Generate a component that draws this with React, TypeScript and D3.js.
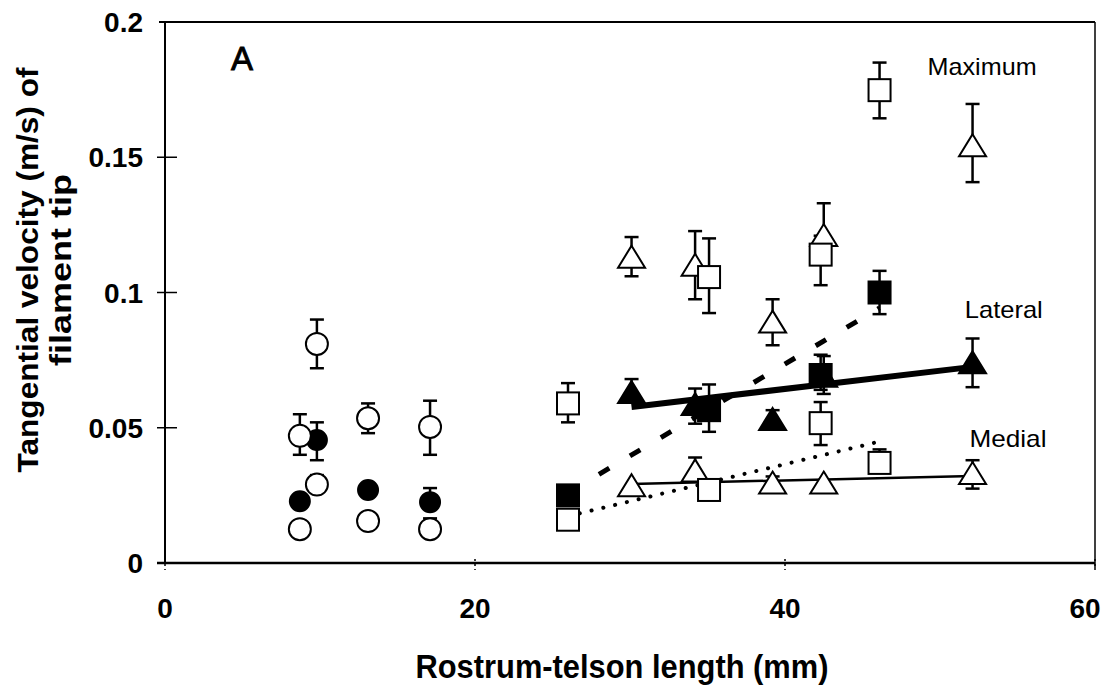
import * as d3 from 'd3';

// length (mm), mean velocity (m/s), error bar up / down
type Pt = { x: number; y: number; up: number; dn: number };

// small mysids (circles)
const maxCircles: Pt[] = [
  { x: 8.7, y: 0.047, up: 0.008, dn: 0.007 },
  { x: 9.8, y: 0.081, up: 0.009, dn: 0.009 },
  { x: 13.1, y: 0.0535, up: 0.0055, dn: 0.0055 },
  { x: 17.1, y: 0.0503, up: 0.0097, dn: 0.0103 },
];
const latCircles: Pt[] = [
  { x: 8.7, y: 0.0228, up: 0, dn: 0 },
  { x: 9.8, y: 0.0455, up: 0.0065, dn: 0.0075 },
  { x: 13.1, y: 0.027, up: 0, dn: 0 },
  { x: 17.1, y: 0.0225, up: 0.0052, dn: 0 },
];
const medCircles: Pt[] = [
  { x: 8.7, y: 0.0125, up: 0, dn: 0 },
  { x: 9.8, y: 0.029, up: 0.0035, dn: 0 },
  { x: 13.1, y: 0.0155, up: 0, dn: 0 },
  { x: 17.1, y: 0.0125, up: 0.004, dn: 0 },
];

// larger mysids, squares
const maxSquares: Pt[] = [
  { x: 26.0, y: 0.059, up: 0.0075, dn: 0.007 },
  { x: 35.1, y: 0.1057, up: 0.0143, dn: 0.0133 },
  { x: 42.3, y: 0.114, up: 0.007, dn: 0.0113 },
  { x: 46.1, y: 0.1748, up: 0.0102, dn: 0.0104 },
];
const latSquares: Pt[] = [
  { x: 26.0, y: 0.025, up: 0, dn: 0 },
  { x: 35.1, y: 0.0565, up: 0.0095, dn: 0.008 },
  { x: 42.3, y: 0.0695, up: 0.0075, dn: 0.0055 },
  { x: 46.1, y: 0.1, up: 0.008, dn: 0.008 },
];
const medSquares: Pt[] = [
  { x: 26.0, y: 0.016, up: 0, dn: 0 },
  { x: 35.1, y: 0.027, up: 0, dn: 0 },
  { x: 42.3, y: 0.0517, up: 0.0078, dn: 0.0081 },
  { x: 46.1, y: 0.037, up: 0.005, dn: 0 },
];

// triangles
const maxTriangles: Pt[] = [
  { x: 30.1, y: 0.1125, up: 0.008, dn: 0.0065 },
  { x: 34.2, y: 0.1095, up: 0.0132, dn: 0.012 },
  { x: 39.2, y: 0.0885, up: 0.009, dn: 0.008 },
  { x: 42.5, y: 0.1205, up: 0.0125, dn: 0 },
  { x: 52.1, y: 0.1537, up: 0.016, dn: 0.0129 },
];
const latTriangles: Pt[] = [
  { x: 30.1, y: 0.0625, up: 0.0055, dn: 0 },
  { x: 34.2, y: 0.058, up: 0.0065, dn: 0.0065 },
  { x: 39.2, y: 0.0525, up: 0.004, dn: 0.0025 },
  { x: 42.5, y: 0.0685, up: 0.008, dn: 0.006 },
  { x: 52.1, y: 0.0735, up: 0.0095, dn: 0.0085 },
];
const medTriangles: Pt[] = [
  { x: 30.1, y: 0.028, up: 0, dn: 0 },
  { x: 34.2, y: 0.0335, up: 0.0055, dn: 0 },
  { x: 39.2, y: 0.029, up: 0.003, dn: 0.003 },
  { x: 42.5, y: 0.029, up: 0, dn: 0 },
  { x: 52.1, y: 0.0325, up: 0.0055, dn: 0.005 },
];

// regression lines (end points)
const latTriFit: [number, number][] = [[30.1, 0.0577], [52.1, 0.0725]];
const medTriFit: [number, number][] = [[30.1, 0.0292], [52.1, 0.0322]];
const latSqFit: [number, number][] = [[26.0, 0.026], [46.1, 0.0943]];
const medSqFit: [number, number][] = [[26.0, 0.0173], [46.1, 0.0449]];

const xTicks = [0, 20, 40, 60];
const yTicks = [0, 0.05, 0.1, 0.15, 0.2];
const yTickLabels = ['0', '0.05', '0.1', '0.15', '0.2'];

const seriesLabels = [
  { text: 'Maximum', x: 49.2, y: 0.1803, len: 109 },
  { text: 'Lateral', x: 51.6, y: 0.0905, len: 78 },
  { text: 'Medial', x: 51.9, y: 0.0429, len: 77 },
];

const FONT = '"Liberation Sans", Arial, Helvetica, sans-serif';

export default function App() {
  const W = 1110;
  const H = 688;
  const left = 165;
  const right = 1095;
  const top = 22;
  const bottom = 563;

  const x = d3.scaleLinear().domain([0, 60]).range([left, right]);
  const y = d3.scaleLinear().domain([0, 0.2]).range([bottom, top]);
  const line = d3.line<[number, number]>().x(d => x(d[0])).y(d => y(d[1]));

  const errBars = (data: Pt[], key: string) =>
    data.map((d, i) => {
      const cx = x(d.x);
      const cy = y(d.y);
      const parts = [] as any[];
      if (d.up > 0) {
        const yt = y(d.y + d.up);
        parts.push(<line key="u" x1={cx} x2={cx} y1={cy} y2={yt} />);
        parts.push(<line key="uc" x1={cx - 7} x2={cx + 7} y1={yt} y2={yt} />);
      }
      if (d.dn > 0) {
        const yb = y(d.y - d.dn);
        parts.push(<line key="d" x1={cx} x2={cx} y1={cy} y2={yb} />);
        parts.push(<line key="dc" x1={cx - 7} x2={cx + 7} y1={yb} y2={yb} />);
      }
      return <g key={key + i}>{parts}</g>;
    });

  const circles = (data: Pt[], filled: boolean, key: string) =>
    data.map((d, i) => (
      <circle key={key + i} cx={x(d.x)} cy={y(d.y)} r={filled ? 10 : 11}
        fill={filled ? '#000' : '#fff'} stroke="#000" strokeWidth={2} />
    ));

  const squares = (data: Pt[], filled: boolean, key: string) =>
    data.map((d, i) => (
      <rect key={key + i} x={x(d.x) - 11} y={y(d.y) - 11} width={22} height={22}
        fill={filled ? '#000' : '#fff'} stroke="#000" strokeWidth={2} />
    ));

  const triPath = (cx: number, cy: number) =>
    `M${cx},${cy - 13}L${cx + 13.5},${cy + 9}L${cx - 13.5},${cy + 9}Z`;

  const triangles = (data: Pt[], filled: boolean, key: string) =>
    data.map((d, i) => (
      <path key={key + i} d={triPath(x(d.x), y(d.y))}
        fill={filled ? '#000' : '#fff'} stroke="#000" strokeWidth={2} strokeLinejoin="miter" />
    ));

  const midY = 270;

  return (
    <svg width={W} height={H} style={{ position: 'absolute', left: 0, top: 0, background: '#fff' }}
      fontFamily={FONT}>
      <rect x={0} y={0} width={W} height={H} fill="#fff" />

      {/* frame */}
      <line x1={left - 6} x2={right} y1={top} y2={top} stroke="#000" strokeWidth={2} />
      <line x1={right} x2={right} y1={top} y2={bottom + 6} stroke="#000" strokeWidth={1.5} />
      <line x1={left} x2={left} y1={top} y2={bottom} stroke="#000" strokeWidth={2} />
      <line x1={left - 8} x2={right} y1={bottom} y2={bottom} stroke="#000" strokeWidth={2.5} />

      {/* y ticks */}
      {yTicks.map((t, i) => (
        <g key={'yt' + i}>
          {i > 0 && i < yTicks.length - 1 && (
            <line x1={left - 8} x2={left + 12} y1={y(t)} y2={y(t)} stroke="#000" strokeWidth={1.5} />
          )}
          <text x={left - 22} y={y(t) + 10} textAnchor="end" fontSize={28} fontWeight="bold">
            {yTickLabels[i]}
          </text>
        </g>
      ))}

      {/* x ticks */}
      {xTicks.map((t, i) => (
        <g key={'xt' + i}>
          <line x1={x(t)} x2={x(t)} y1={bottom - 4} y2={bottom + 7} stroke="#000" strokeWidth={1.5}
            strokeDasharray="2,3" />
          <text x={x(t) - (t === 60 ? 10 : 0)} y={bottom + 55} textAnchor="middle" fontSize={28}
            fontWeight="bold">{t}</text>
        </g>
      ))}

      {/* axis titles */}
      <text x={622} y={678} textAnchor="middle" fontSize={33} fontWeight="bold"
        textLength={413} lengthAdjust="spacingAndGlyphs">
        Rostrum-telson length (mm)
      </text>
      <text transform={`translate(38,${midY}) rotate(-90)`} textAnchor="middle"
        fontSize={29} fontWeight="bold" textLength={405} lengthAdjust="spacingAndGlyphs">
        Tangential velocity (m/s) of
      </text>
      <text transform={`translate(71,${midY}) rotate(-90)`} textAnchor="middle"
        fontSize={29} fontWeight="bold" textLength={192} lengthAdjust="spacingAndGlyphs">
        filament tip
      </text>

      {/* panel letter */}
      <text x={231} y={70} fontSize={33} stroke="#000" strokeWidth={0.9}>A</text>

      {/* regression lines */}
      <path d={line(medSqFit) || ''} fill="none" stroke="#000" strokeWidth={4}
        strokeDasharray="0.1,12" strokeLinecap="round" />
      <path d={line(latSqFit) || ''} fill="none" stroke="#000" strokeWidth={5}
        strokeDasharray="12,24" />
      <path d={line(medTriFit) || ''} fill="none" stroke="#000" strokeWidth={2.5} />
      <path d={line(latTriFit) || ''} fill="none" stroke="#000" strokeWidth={6} />

      {/* error bars */}
      <g stroke="#000" strokeWidth={2.5}>
        {errBars(maxCircles, 'emc')}
        {errBars(latCircles, 'elc')}
        {errBars(medCircles, 'edc')}
        {errBars(maxSquares, 'ems')}
        {errBars(latSquares, 'els')}
        {errBars(medSquares, 'eds')}
        {errBars(maxTriangles, 'emt')}
        {errBars(latTriangles, 'elt')}
        {errBars(medTriangles, 'edt')}
      </g>

      {/* markers */}
      {circles(medCircles, false, 'dc')}
      {circles(latCircles, true, 'lc')}
      {circles(maxCircles, false, 'mc')}
      {triangles(latTriangles, true, 'lt')}
      {squares(latSquares, true, 'ls')}
      {triangles(medTriangles, false, 'dt')}
      {squares(medSquares, false, 'ds')}
      {triangles(maxTriangles, false, 'mt')}
      {squares(maxSquares, false, 'ms')}

      {/* series labels */}
      {seriesLabels.map(l => (
        <text key={l.text} x={x(l.x)} y={y(l.y)} fontSize={24} textLength={l.len}
          lengthAdjust="spacingAndGlyphs">{l.text}</text>
      ))}
    </svg>
  );
}
